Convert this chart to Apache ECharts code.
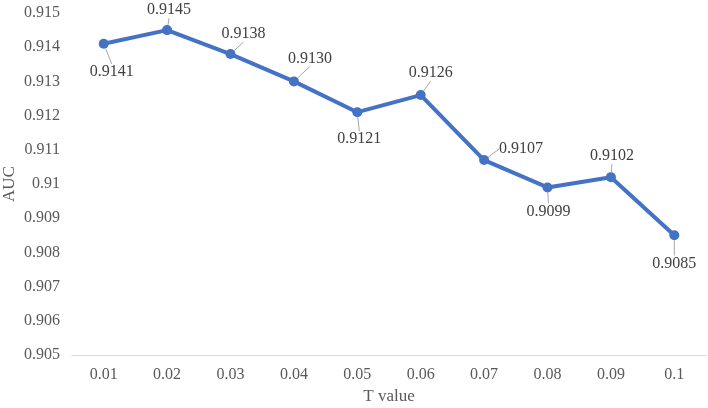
<!DOCTYPE html>
<html>
<head>
<meta charset="utf-8">
<script src="https://cdn.jsdelivr.net/npm/echarts@6/dist/echarts.min.js"></script>
<style>html,body{margin:0;padding:0;background:#fff}#main{width:708px;height:408px}</style>
</head>
<body>
<div id="main"></div>
<script>
// T value vs AUC
var tValues = ['0.01', '0.02', '0.03', '0.04', '0.05', '0.06', '0.07', '0.08', '0.09', '0.1'];
var aucValues = [0.9141, 0.9145, 0.9138, 0.9130, 0.9121, 0.9126, 0.9107, 0.9099, 0.9102, 0.9085];
// where each data label sits relative to its point (dx, dy)
var labelOffsets = [[8, 28], [2, -20], [13, -20], [16, -23], [2, 27], [10, -22], [37, -11], [1, 24], [1, -21], [0, 28]];

var chart = echarts.init(document.getElementById('main'));
var serif = '"Liberation Serif", "Times New Roman", serif';

var option = {
    animation: false,
    grid: {left: 72, right: 2, top: 13, bottom: 53, outerBoundsMode: 'none'},
    xAxis: {
        type: 'category',
        data: tValues,
        name: 'T value',
        nameLocation: 'middle',
        nameGap: 33,
        nameMoveOverlap: false,
        nameTextStyle: {fontFamily: serif, fontSize: 17, color: '#595959'},
        axisLine: {lineStyle: {color: '#d9d9d9', width: 1}},
        axisTick: {show: false},
        axisLabel: {fontFamily: serif, fontSize: 16, color: '#595959', margin: 12}
    },
    yAxis: {
        type: 'value',
        min: 0.905,
        max: 0.915,
        interval: 0.001,
        name: 'AUC',
        nameLocation: 'middle',
        nameGap: 54,
        nameMoveOverlap: false,
        nameTextStyle: {fontFamily: serif, fontSize: 17, color: '#595959'},
        axisLine: {show: false},
        axisTick: {show: false},
        splitLine: {show: false},
        axisLabel: {
            fontFamily: serif, fontSize: 16, color: '#595959', margin: 12,
            formatter: function (v) { return String(+v.toFixed(3)); }
        }
    },
    series: [{
        type: 'line',
        data: aucValues,
        symbol: 'circle',
        symbolSize: 10,
        lineStyle: {color: '#4472C4', width: 4},
        itemStyle: {color: '#4472C4'},
        label: {
            show: true,
            position: 'inside',
            fontFamily: serif,
            fontSize: 16,
            color: '#404040',
            formatter: function (p) { return p.value.toFixed(4); }
        },
        labelLine: {show: true, lineStyle: {color: '#a6a6a6', width: 1}},
        labelLayout: function (params) {
            var o = labelOffsets[params.dataIndex];
            return {dx: o[0], dy: o[1]};
        }
    }]
};
chart.setOption(option);
</script>
</body>
</html>
